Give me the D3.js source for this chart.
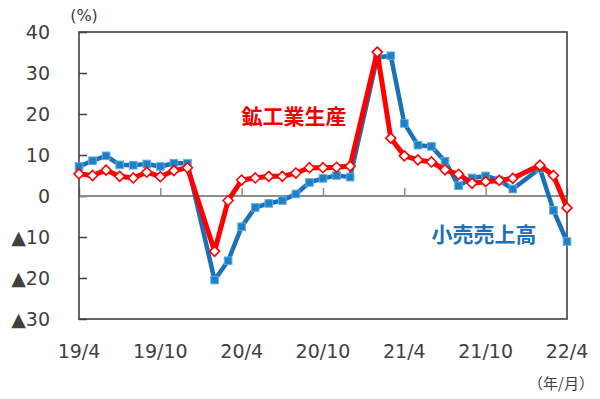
<!DOCTYPE html>
<html>
<head>
<meta charset="utf-8">
<script src="https://cdn.jsdelivr.net/npm/d3@7"></script>
<style>
  body { margin:0; background:#fff; }
  text { font-family: "DejaVu Sans", Verdana, sans-serif; fill:#404040; }
</style>
</head>
<body>
<div id="chart-area"></div>
<script>
// months on the axis (Jan is missing: China reports Jan-Feb together)
var months = ["19/4","19/5","19/6","19/7","19/8","19/9","19/10","19/11","19/12",
  "20/1","20/2","20/3","20/4","20/5","20/6","20/7","20/8","20/9","20/10","20/11","20/12",
  "21/1","21/2","21/3","21/4","21/5","21/6","21/7","21/8","21/9","21/10","21/11","21/12",
  "22/1","22/2","22/3","22/4"];

var production = [5.4,5.0,6.3,4.8,4.4,5.8,4.7,6.2,6.9,
  null,-13.5,-1.1,3.9,4.4,4.8,4.8,5.6,6.9,6.9,7.0,7.3,
  null,35.1,14.1,9.8,8.8,8.3,6.4,5.3,3.1,3.5,3.8,4.3,
  null,7.5,5.0,-2.9];

var retail = [7.2,8.6,9.8,7.6,7.5,7.8,7.2,8.0,8.0,
  null,-20.5,-15.8,-7.5,-2.8,-1.8,-1.1,0.5,3.3,4.3,5.0,4.6,
  null,33.8,34.2,17.7,12.4,12.1,8.5,2.5,4.4,4.9,3.9,1.7,
  null,6.7,-3.5,-11.1];

var xTickLabels = ["19/4","19/10","20/4","20/10","21/4","21/10","22/4"];
var yTicks = [-30,-20,-10,0,10,20,30,40];

var margin = { left:79, right:33, top:32, bottom:80 };
var width = 600 - margin.left - margin.right;
var height = 399 - margin.top - margin.bottom;

var svg = d3.select("#chart-area")
    .append("svg")
    .attr("width", 600)
    .attr("height", 399);

var g = svg.append("g")
    .attr("transform", "translate(" + margin.left + "," + margin.top + ")");

var x = d3.scaleLinear()
    .domain([0, months.length - 1])
    .range([0, width]);
var y = d3.scaleLinear()
    .domain([-30, 40])
    .range([height, 0]);

// y axis: ticks point inward, labels with ▲ for negatives
var yAxisCall = d3.axisLeft(y)
    .tickValues(yTicks)
    .tickSize(-8)
    .tickPadding(29)
    .tickFormat(function(d){
      return d < 0 ? "▲" + (-d) : d;
    });
var yAxis = g.append("g")
    .attr("class", "y axis")
    .call(yAxisCall);
yAxis.select(".domain").remove();
yAxis.selectAll("line").attr("stroke", "#404040").attr("stroke-width", 1.5);
yAxis.selectAll("text")
    .attr("font-size", "19px")
    .attr("fill", "#404040")
    .style("font-family", "'DejaVu Sans', Verdana, sans-serif");

// zero line with month ticks pointing up
var xAxisCall = d3.axisTop(x)
    .tickValues(xTickLabels.map(function(d){ return months.indexOf(d); }))
    .tickSize(8)
    .tickFormat("");
var xAxis = g.append("g")
    .attr("class", "x axis")
    .attr("transform", "translate(0," + y(0) + ")")
    .call(xAxisCall);
xAxis.select(".domain")
    .attr("d", "M0,0H" + width)
    .attr("stroke", "#8c8c8c")
    .attr("stroke-width", 1.8);
xAxis.selectAll("line").attr("stroke", "#8c8c8c").attr("stroke-width", 1.5);

// month labels below the frame
g.selectAll(".xlabel").data(xTickLabels)
  .enter()
    .append("text")
    .attr("class", "xlabel")
    .attr("x", function(d){ return x(months.indexOf(d)); })
    .attr("y", height + 39)
    .attr("font-size", "19px")
    .attr("text-anchor", "middle")
    .text(function(d){ return d; });

// plot frame
g.append("rect")
    .attr("width", width)
    .attr("height", height)
    .attr("fill", "none")
    .attr("stroke", "#404040")
    .attr("stroke-width", 1.6);

svg.append("text")
    .attr("x", 84)
    .attr("y", 21)
    .attr("font-size", "16px")
    .attr("text-anchor", "middle")
    .text("(%)");

svg.append("text")
    .attr("x", 561)
    .attr("y", 389)
    .attr("font-size", "15px")
    .attr("text-anchor", "middle")
    .style("font-family", "'Noto Sans CJK JP', sans-serif")
    .text("（年/月）");

var line = d3.line()
    .x(function(d){ return x(d.i); })
    .y(function(d){ return y(d.v); });

function points(values){
  return values.map(function(v, i){ return { i:i, v:v }; })
    .filter(function(d){ return d.v !== null; });
}

var retailPts = points(retail);
var prodPts = points(production);

// retail sales (blue, squares)
g.append("path")
    .datum(retailPts)
    .attr("fill", "none")
    .attr("stroke", "#1b70b8")
    .attr("stroke-width", 4.5)
    .attr("stroke-linejoin", "round")
    .attr("d", line);

g.selectAll(".sq").data(retailPts)
  .enter()
    .append("rect")
    .attr("class", "sq")
    .attr("x", function(d){ return x(d.i) - 3.8; })
    .attr("y", function(d){ return y(d.v) - 3.8; })
    .attr("width", 7.6)
    .attr("height", 7.6)
    .attr("fill", "#1f80c6")
    .attr("stroke", "#5aaee0")
    .attr("stroke-width", 1);

// industrial production (red, diamonds)
g.append("path")
    .datum(prodPts)
    .attr("fill", "none")
    .attr("stroke", "#ff0000")
    .attr("stroke-width", 5)
    .attr("stroke-linejoin", "round")
    .attr("d", line);

g.selectAll(".dm").data(prodPts)
  .enter()
    .append("path")
    .attr("class", "dm")
    .attr("d", "M0,-5L5,0L0,5L-5,0Z")
    .attr("transform", function(d){
      return "translate(" + x(d.i) + "," + y(d.v) + ")";
    })
    .attr("fill", "#fff")
    .attr("stroke", "#ff0000")
    .attr("stroke-width", 1.6);

// series labels
svg.append("text")
    .attr("x", 294)
    .attr("y", 124)
    .attr("font-size", "21px")
    .attr("font-weight", "bold")
    .attr("text-anchor", "middle")
    .style("font-family", "'Noto Sans CJK JP', sans-serif")
    .style("fill", "#ee0000")
    .text("鉱工業生産");

svg.append("text")
    .attr("x", 484)
    .attr("y", 242)
    .attr("font-size", "21px")
    .attr("font-weight", "bold")
    .attr("text-anchor", "middle")
    .style("font-family", "'Noto Sans CJK JP', sans-serif")
    .style("fill", "#1b70b8")
    .text("小売売上高");
</script>
</body>
</html>
